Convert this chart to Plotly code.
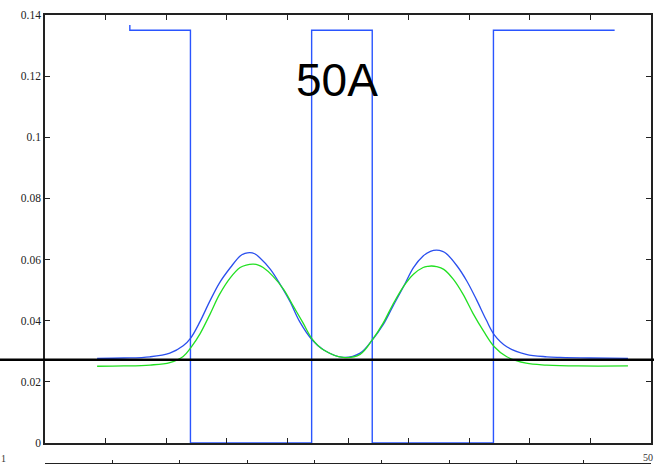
import plotly.graph_objects as go

# Potential profile (step)
step_x = [7, 7, 12, 22, 27, 37, 47]
step_y = [0.1367, 0.135, 0, 0.135, 0, 0.135, 0.135]

# Blue curve
blue_x = [4.3, 6.5, 8.66, 10.3, 11.4, 12.05, 12.8, 13.6, 14.4, 15.3, 16.1, 16.5, 16.9, 17.3, 17.7, 18.6,
          19.4, 20.2, 21.0, 22.05, 23.0, 24.6, 26.0, 27.0, 27.9, 28.7, 29.6, 30.4, 31.2, 31.8, 32.3,
          32.8, 33.1, 34.0, 34.8, 35.6, 36.4, 37.07, 38.1, 39.7, 41.4, 42.5, 45.0, 48.1]
blue_y = [0.0277, 0.0278, 0.0282, 0.0294, 0.0318, 0.0345, 0.0398, 0.0464, 0.0524, 0.0574, 0.0612,
          0.0620, 0.0623, 0.0619, 0.0607, 0.0568, 0.0519, 0.0464, 0.0398, 0.0337, 0.0304, 0.0280,
          0.0294, 0.0337, 0.0387, 0.0447, 0.0513, 0.0574, 0.0612, 0.0627, 0.0631, 0.0627, 0.0620,
          0.0579, 0.0530, 0.0469, 0.0403, 0.0354, 0.0315, 0.0290, 0.0282, 0.0280, 0.0278, 0.0277]

# Green curve
green_x = [4.3, 6.5, 8.66, 10.3, 11.4, 12.05, 12.8, 13.6, 14.4, 15.3, 16.1, 16.6, 17.2, 17.6, 18.0, 18.8,
           19.7, 20.5, 21.3, 22.05, 23.0, 24.6, 26.0, 27.0, 27.9, 28.7, 29.6, 30.4, 31.2, 31.6, 31.9,
           32.3, 32.9, 33.7, 34.5, 35.3, 36.2, 37.07, 38.1, 39.7, 41.4, 44.0, 48.1]
green_y = [0.0251, 0.0252, 0.0255, 0.0263, 0.0283, 0.0313, 0.0358, 0.0420, 0.0486, 0.0541, 0.0574,
           0.0582, 0.0585, 0.0582, 0.0574, 0.0546, 0.0502, 0.0447, 0.0392, 0.0340, 0.0304, 0.0280,
           0.0290, 0.0337, 0.0392, 0.0453, 0.0513, 0.0552, 0.0574, 0.0578, 0.0579, 0.0577, 0.0568,
           0.0535, 0.0486, 0.0425, 0.0365, 0.0315, 0.0282, 0.0261, 0.0255, 0.0252, 0.0252]

ref_level = 0.0272
title_text = "50A"
y_ticks = [0, 0.02, 0.04, 0.06, 0.08, 0.1, 0.12, 0.14]
y_tick_labels = ["0", "0.02", "0.04", "0.06", "0.08", "0.1", "0.12", "0.14"]

W, H = 654, 465

fig = go.Figure()
fig.add_trace(go.Scatter(x=step_x, y=step_y, mode="lines", line=dict(color="#2a55ff", width=1.4, shape="hv"),
                         showlegend=False, hoverinfo="skip"))
fig.add_trace(go.Scatter(x=blue_x, y=blue_y, mode="lines",
                         line=dict(color="#2a4fee", width=1.3, shape="spline", smoothing=1.0),
                         showlegend=False))
fig.add_trace(go.Scatter(x=green_x, y=green_y, mode="lines",
                         line=dict(color="#22e022", width=1.3, shape="spline", smoothing=1.0),
                         showlegend=False))
# dummy trace for secondary bottom axis
fig.add_trace(go.Scatter(x=[None], y=[None], xaxis="x2", yaxis="y", showlegend=False))

fig.add_shape(type="line", xref="paper", yref="y", x0=0, x1=1, y0=ref_level, y1=ref_level,
              line=dict(color="black", width=2.5))

fig.add_annotation(x=24.1, y=0.1189, xref="x", yref="y", text=title_text, showarrow=False,
                   font=dict(family="Liberation Sans, Arial", size=46, color="black"))
fig.add_annotation(x=0, y=1 - 458 / H, xref="paper", yref="paper", text="1", showarrow=False,
                   xanchor="left", yanchor="middle", borderpad=0,
                   font=dict(family="Liberation Serif", size=10, color="#333"))
fig.add_annotation(x=1, y=1 - 457 / H, xref="paper", yref="paper", text="50", showarrow=False,
                   xanchor="right", yanchor="middle", borderpad=0,
                   font=dict(family="Liberation Serif", size=10, color="#333"))

fig.update_layout(
    template="none",
    width=W, height=H,
    margin=dict(l=0, r=0, t=0, b=0, pad=0),
    paper_bgcolor="white", plot_bgcolor="white",
    xaxis=dict(domain=[45 / W, 651 / W], range=[0, 50], dtick=5, tick0=0, ticks="inside", ticklen=5,
               tickcolor="#222", showline=True, linecolor="#222", linewidth=1.5, mirror="ticks",
               showticklabels=False, showgrid=False, zeroline=False, automargin=False),
    yaxis=dict(domain=[1 - 443 / H, 1 - 15 / H], range=[0, 0.14], tickvals=y_ticks, ticktext=y_tick_labels,
               ticks="inside", ticklen=5, tickcolor="#222", showline=True, linecolor="#222", linewidth=1.5,
               mirror="ticks", showgrid=False, zeroline=False, automargin=False,
               tickfont=dict(family="Liberation Serif", size=11.5, color="#222")),
    xaxis2=dict(domain=[8 / W, 613 / W], range=[0, 9], dtick=1, tick0=0, anchor="free", overlaying="x",
                position=1.7 / H, ticks="inside", ticklen=3, tickcolor="#222", showline=True,
                linecolor="#222", linewidth=1.2, showticklabels=False, showgrid=False, zeroline=False,
                automargin=False),
)

fig.write_html("out.html", config={"displayModeBar": False},
               post_script="document.body.style.margin='0';document.body.style.overflow='hidden';")
